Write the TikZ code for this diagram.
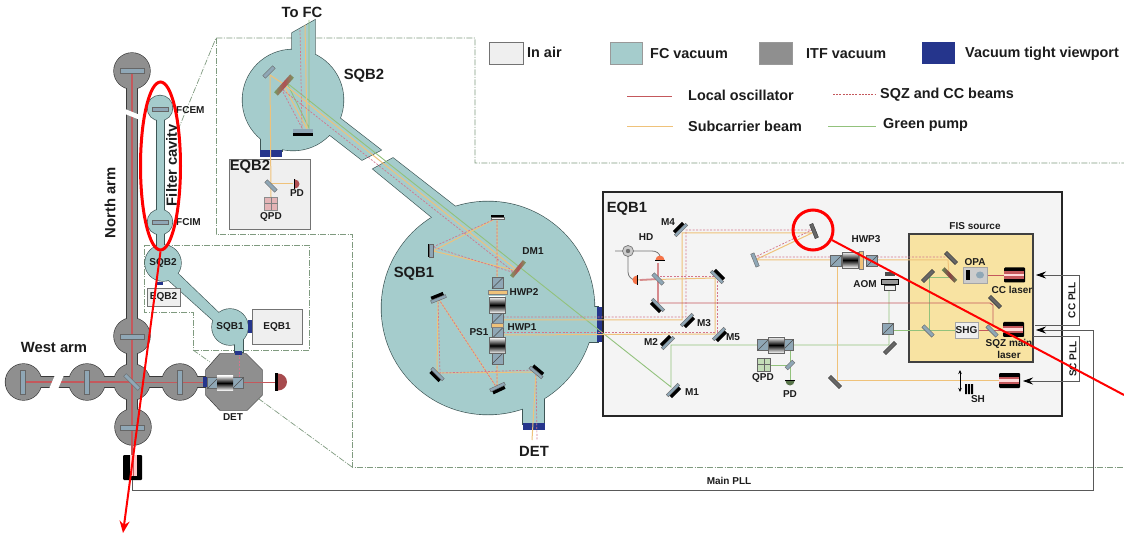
\documentclass[tikz,border=0pt]{standalone}
\usepackage{fontspec}
\setmainfont{Liberation Sans}
\usetikzlibrary{arrows.meta,shapes.geometric}
\definecolor{fcblue}{HTML}{A5CCCC}
\definecolor{fcedge}{HTML}{3E5656}
\definecolor{itfgray}{HTML}{8F8F8F}
\definecolor{itfedge}{HTML}{3A3A3A}
\definecolor{portblue}{HTML}{25358C}
\definecolor{airgray}{HTML}{EFEFEF}
\definecolor{fisyellow}{HTML}{F8E3A2}
\definecolor{zonegreen}{HTML}{7F9A7F}
\definecolor{loRed}{HTML}{C4585C}
\definecolor{subOrange}{HTML}{EFC27A}
\definecolor{pumpGreen}{HTML}{92C27C}
\definecolor{sqzRed}{HTML}{D3758C}
\definecolor{plateGray}{HTML}{8FA7B6}
\definecolor{txtBlack}{HTML}{1C1C1C}
\tikzset{
  fcline/.style={draw=fcedge, line width=1.3pt},
  fcbody/.style={fill=fcblue},
  itfline/.style={draw=itfedge, line width=1.3pt},
  itfbody/.style={fill=itfgray},
  port/.style={fill=portblue},
  airbox/.style={fill=airgray, draw=black!55, line width=0.8pt},
  zone/.style={draw=zonegreen, line width=0.7pt, dash pattern=on 6pt off 1.5pt on 1pt off 1.5pt},
  lobeam/.style={draw=loRed, line width=0.9pt},
  subbeam/.style={draw=subOrange, line width=1pt},
  pumpbeam/.style={draw=pumpGreen, line width=0.9pt},
  sqzbeam/.style={draw=sqzRed, line width=0.7pt, dash pattern=on 2pt off 1.5pt},
  plate/.style={fill=plateGray, draw=black!60, line width=0.4pt},
  platedark/.style={fill=black!60, draw=black!80, line width=0.4pt},
  pll/.style={draw=black!65, line width=0.8pt},
  plltip/.style={-{Stealth[length=10pt,width=7pt,black]}},
  callout/.style={draw=red, line width=3pt},
  biglbl/.style={font=\bfseries\fontsize{14.8}{15}\selectfont, text=txtBlack, inner sep=0pt},
  leglbl/.style={font=\bfseries\fontsize{14.4}{15}\selectfont, text=txtBlack, inner sep=0pt},
  midlbl/.style={font=\bfseries\fontsize{10}{11}\selectfont, text=txtBlack, inner sep=0pt},
  smalllbl/.style={font=\bfseries\fontsize{10}{12}\selectfont, text=txtBlack, inner sep=0pt, align=center},
}
% mirror with black backing, plain mirrors, cube, isolator, laser, diode
\newcommand{\mirblack}[3]{\begin{scope}[shift={(#1,#2)},rotate=#3]
  \fill[black] (-6.5,-5) rectangle (6.5,-1);
  \filldraw[plate] (-8,-1.5) rectangle (8,1.5);
\end{scope}}
\newcommand{\mirplain}[4]{\begin{scope}[shift={(#1,#2)},rotate=#3]
  \filldraw[plate] (-#4,-1.8) rectangle (#4,1.8);
\end{scope}}
\newcommand{\mirdark}[3]{\begin{scope}[shift={(#1,#2)},rotate=#3]
  \filldraw[platedark] (-7.5,-1.8) rectangle (7.5,1.8);
\end{scope}}
\newcommand{\cubebs}[2]{\begin{scope}[shift={(#1,#2)}]
  \filldraw[plate] (-5.5,-5.5) rectangle (5.5,5.5);
  \draw[black!70, line width=0.4pt] (-5.5,5.5) -- (5.5,-5.5);
\end{scope}}
\newcommand{\faradbox}[3]{\begin{scope}[shift={(#1,#2)},rotate=#3]
  \shade[top color=white, bottom color=white, middle color=black] (-8,-8) rectangle (8,8);
  \draw[black!60, line width=0.4pt] (-8,-8) rectangle (8,8);
\end{scope}}
\newcommand{\laserbox}[2]{\begin{scope}[shift={(#1,#2)}]
  \fill[black, rounded corners=1pt] (-10.5,-7.5) rectangle (10.5,7.5);
  \fill[loRed] (-10.5,-3.6) rectangle (9.5,3.6);
  \fill[white!85!red] (-10.5,-1.2) rectangle (9.5,1.2);
\end{scope}}
\newcommand{\domepd}[4]{\begin{scope}[shift={(#1,#2)},rotate=#3]
  \fill[#4] (-4.5,0) arc (180:0:4.5 and -4.5) -- cycle;
  \fill[black] (-5,-0.2) rectangle (5,1);
\end{scope}}
\begin{document}
\begin{tikzpicture}[x=1pt,y=-1pt]
  \useasboundingbox (0,0) rectangle (1124,534);
  \fill[white] (0,0) rectangle (1124,534);
  % Zone outlines
  \draw[zone] (178,130) -- (216,38) -- (475,38) -- (475,163) -- (1124,163);
  \draw[zone] (216,38) -- (216,234) -- (352,234) -- (352,467) -- (1124,467);
  \draw[zone] (352,467) -- (259,399);
  \draw[zone] (144,245) -- (309,245) -- (309,350) -- (193,350) -- (193,312) -- (144,312) -- cycle;
  \draw[zone] (193,350) -- (210,362);
  % Arms and main chambers
  \foreach \lay in {itfline,itfbody}{
    \path[\lay] (127,71) rectangle (137,430);
    \path[\lay] (23,377) rectangle (205,387);
    \foreach \cx/\cy in {132/71,132/336,132/382,133/427,87/382,23.5/382,180/382}{
      \path[\lay] (\cx,\cy) circle (18);
    }
    \path[\lay] (220,354) -- (246,354) -- (262,370) -- (262,395) -- (247,410) -- (220,410) -- (206,395) -- (206,370) -- cycle;
  }
  \draw[loRed, line width=2pt] (132,71) -- (132,455);
  \draw[loRed, line width=1.6pt] (23,382) -- (132,382);
  \draw[lobeam] (132,382) -- (285,382);
  \draw[sqzbeam] (239,354) -- (239,382);
  % Arm breaks
  \fill[white] (125,109) -- (140,115) -- (140,120) -- (125,114) -- cycle;
  \fill[white] (55,375) -- (64,375) -- (58,389) -- (49,389) -- cycle;
  % Arm mirrors
  \foreach \cx/\cy in {132/71,132/337,132/428}{
    \filldraw[plate] (\cx-12,\cy-2.5) rectangle (\cx+12,\cy+2.5);
  }
  \foreach \cx in {23,87,180}{
    \filldraw[plate] (\cx-2.5,370) rectangle (\cx+2.5,394);
  }
  \mirplain{132}{382}{-45}{10}
  \fill[port] (203,377) rectangle (207,387);
  % Detection bench parts
  \cubebs{213}{383}
  \cubebs{238}{383}
  \begin{scope}[shift={(225,383)}]
    \shade[top color=white, bottom color=white, middle color=black] (-8,-7.5) rectangle (8,7.5);
  \end{scope}
  \fill[black] (275,373) rectangle (278,391);
  \fill[loRed!85!black] (278,373.5) arc (-90:90:9 and 8.5) -- cycle;
  % Squeezing injection stub
  \fill[black, rounded corners=1pt] (123,455) rectangle (142,480);
  \fill[white!80!red] (130,455) rectangle (136.5,476);
  \draw[loRed, line width=0.9pt] (133,455) -- (133,476);
  % Filter cavity and small benches
  \foreach \lay in {fcline,fcbody}{
    \path[\lay] (156.5,108) rectangle (164,248);
    \path[\lay] (160,108) circle (12.5);
    \path[\lay] (160,222) circle (12.5);
    \path[\lay] (163,263) circle (18);
    \path[\lay] (230,327) circle (18);
    \path[\lay] (172,268) -- (222,316) -- (215,322) -- (165,277) -- cycle;
    \path[\lay] (235,335) rectangle (243,352);
  }
  \foreach \cy in {109,222}{
    \filldraw[plate] (152.5,\cy-2.2) rectangle (168,\cy+2.2);
  }
  \fill[port] (157,282) rectangle (163,285);
  \fill[port] (248,320) rectangle (252,333);
  \fill[port] (235,351) rectangle (242,355);
  \draw[airbox] (147,288) rectangle (180,306);
  \draw[airbox] (252,309) rectangle (302,344);
  % Upper suspended bench and long pipe
  \foreach \lay in {fcline,fcbody}{
    \path[\lay] (293,100) circle (50.5);
    \path[\lay] (292,33) -- (315,20) -- (315,70) -- (292,70) -- cycle;
    \path[\lay] (261,130) rectangle (282,151);
    \path[\lay] (332,112) -- (381,150) -- (362,160) -- (322,129) -- cycle;
    \path[\lay] (393,158) -- (470,218) -- (445,228) -- (373,169) -- cycle;
    \path[\lay] (488,308) circle (106.5);
    \path[\lay] (523,390) rectangle (544,424);
    \path[\lay] (588,307) rectangle (598,342);
  }
  \fill[port] (260,150) rectangle (282,157);
  \fill[port] (523,423) rectangle (545,430);
  \fill[port] (597,307) rectangle (603,342);
  \draw[airbox] (229,159) rectangle (310,229);
  % EQB1 bench
  \draw[black!85, fill=airgray!70!white, line width=2.2pt] (603,192) rectangle (1062,416);
  \draw[fill=fisyellow, draw=black!75, line width=1.5pt] (909,234) rectangle (1033,362);
  % Green pump
  \draw[pumpbeam] (309,20) -- (309,128) -- (287,83) -- (671,387) -- (671,345) -- (889,345) -- (889,290);
  \draw[pumpbeam] (888,330) -- (955,330);
  \draw[pumpbeam] (929,330) -- (929,277) -- (950,277);
  \draw[pumpbeam] (790,345) -- (790,380);
  \draw[pumpbeam] (790,365) -- (764,365);
  % Subcarrier beam
  \draw[subbeam] (305,25) -- (307,129) -- (285,88);
  \draw[subbeam] (285,85) -- (518,271) -- (433,251) -- (497,218) -- (497,278);
  \draw[subbeam] (270,75) -- (285,85);
  \draw[subbeam] (270,75) -- (271,197);
  \draw[subbeam] (271,184) -- (293,184);
  \draw[subbeam] (497,363) -- (497,388) -- (438,298) -- (437,373) -- (536,372) -- (532,440);
  \draw[subbeam] (503,320) -- (682,320) -- (682,233) -- (812,233) -- (755,260) -- (948,260) -- (949,275);
  \draw[subbeam] (503,335) -- (715,334) -- (715,278) -- (637,280);
  \draw[subbeam] (837,267) -- (837,380) -- (1000,380);
  % Squeezed and control beams
  \draw[sqzbeam] (300,30) -- (302,128) -- (283,92);
  \draw[sqzbeam] (283,90) -- (515,273) -- (433,247) -- (497,218) -- (497,278);
  \draw[sqzbeam] (497,363) -- (497,388) -- (438,298) -- (440,373) -- (536,370) -- (537,440);
  \draw[sqzbeam] (503,317) -- (686,317) -- (686,230) -- (812,230) -- (755,257) -- (948,257);
  \draw[sqzbeam] (503,332) -- (717,332) -- (717,276) -- (660,276);
  % Local oscillator
  \draw[lobeam] (658,303) -- (990,303) -- (993,305) -- (993,327);
  \draw[lobeam] (987,275) -- (1004,275);
  \draw[lobeam] (978,330) -- (1003,330);
  \draw[loRed!70, line width=1.8pt] (658,303) -- (658,263);
  \draw[loRed!70, line width=1.8pt] (658,279) -- (640,280);
  % Upper bench optics
  \mirplain{269}{72}{45}{7}
  \begin{scope}[shift={(284,85)},rotate=48]
    \shade[left color=pumpGreen!80!black, right color=pumpGreen!80!black, middle color=loRed!90!black] (-12,-2.5) rectangle (12,2.5);
  \end{scope}
  \fill[plateGray] (293,129) rectangle (313,133);
  \fill[black] (293,133) rectangle (313,136);
  \mirplain{271}{186}{-45}{7}
  \filldraw[fill=loRed!45!white, draw=black!45, line width=0.4pt] (264.5,197) rectangle (277.5,210);
  \draw[black!50, line width=0.6pt] (271,197) -- (271,210) (264.5,203.5) -- (277.5,203.5);
  \domepd{295}{184}{-90}{loRed!90!black}
  % Lower bench optics
  \begin{scope}[shift={(518,269)},rotate=50]
    \shade[left color=pumpGreen!80!black, right color=pumpGreen!80!black, middle color=loRed!90!black] (-10,-2) rectangle (10,2);
  \end{scope}
  \fill[black] (491,215) rectangle (504,217);
  \filldraw[plate, fill=airgray] (491,217) rectangle (504,219.5);
  \mirplain{431}{251}{90}{6.5}
  \fill[black] (427.5,244.5) rectangle (429,257.5);
  \mirblack{438.5}{299}{22}
  \mirblack{437.5}{374}{135}
  \mirblack{497.5}{387}{205}
  \mirblack{536}{372.5}{-40}
  \cubebs{497.5}{283}
  \cubebs{497.5}{318}
  \cubebs{497.5}{333}
  \cubebs{497.5}{358.5}
  \faradbox{497}{305}{90}
  \faradbox{497}{345.5}{90}
  \filldraw[fill=subOrange, draw=black!50, line width=0.4pt] (488,290) rectangle (507,294);
  \filldraw[fill=subOrange, draw=black!50, line width=0.4pt] (491,323) rectangle (503,327);
  % EQB1 optics
  \foreach \mx/\my/\ma in {681/230/45,687/320/225,719/334/225,668/343/45,673/390/225,658/305/135,717/277/-45}{
    \mirblack{\mx}{\my}{\ma}
  }
  \mirdark{814}{231}{-68}
  \mirplain{755}{260}{-68}{7}
  \mirplain{658}{279}{-45}{7}
  \mirdark{835}{382}{-45}
  \mirdark{951}{258}{-45}
  \mirdark{928}{276}{45}
  \mirplain{928}{331}{-45}{7}
  \mirplain{992}{331}{-45}{7}
  \mirdark{995}{302}{-45}
  \mirdark{890}{348}{45}
  \begin{scope}[shift={(949.5,275)},rotate=-45]
    \shade[left color=pumpGreen!70!black, right color=pumpGreen!70!black, middle color=loRed!70!black] (-9,-2) rectangle (9,2);
  \end{scope}
  \mirplain{790}{365}{45}{5}
  \cubebs{763}{345}
  \cubebs{788}{345}
  \faradbox{776}{345}{0}
  \cubebs{836}{261}
  \cubebs{872}{261}
  \faradbox{850}{260}{0}
  \filldraw[fill=subOrange, draw=black!50, line width=0.4pt] (859,251) rectangle (863,269);
  \cubebs{888}{329}
  % Acousto-optic block
  \fill[black!70] (885,272) rectangle (895,276);
  \filldraw[fill=black!40, draw=black, line width=1pt] (881,280) rectangle (898,285);
  \filldraw[fill=airgray, draw=black!70, line width=0.5pt] (884,285) rectangle (895,290);
  % Small quadrant diode on the bench
  \filldraw[fill=pumpGreen!55!white, draw=black!60, line width=0.4pt] (757.5,358) rectangle (770.5,371);
  \draw[black!60, line width=0.5pt] (764,358) -- (764,371) (757.5,364.5) -- (770.5,364.5);
  \domepd{790}{381}{180}{pumpGreen!60!black}
  % Homodyne
  \draw[black!55, line width=0.8pt] (615,251) -- (652,251) to[out=0, in=90] (660,257);
  \draw[black!55, line width=0.8pt] (628,251) -- (628,272) to[out=-90, in=180] (636,280);
  \filldraw[fill=white!80!black, draw=black!55, line width=0.7pt] (628,251) circle (5.5);
  \fill[black!55] (628,251) circle (2.2);
  \domepd{660}{260}{0}{subOrange!60!red}
  \domepd{637}{280}{90}{subOrange!60!red}
  % Source boxes
  \filldraw[fill=black!20, draw=black!35, line width=0.6pt] (963,267) rectangle (987,283);
  \fill[black] (966,270) rectangle (970,280);
  \fill[plateGray] (980,275) ellipse (4 and 3.5);
  \laserbox{1014.5}{275}
  \laserbox{1013.5}{329.5}
  \laserbox{1009.5}{380.5}
  \filldraw[fill=airgray, draw=black!35, line width=0.6pt] (955,322) rectangle (978,338);
  % Translation stage
  \draw[black, line width=0.7pt, {Stealth[length=4pt,width=3.5pt]}-{Stealth[length=4pt,width=3.5pt]}] (960,370) -- (960,392);
  \fill[black] (965,384) rectangle (967,394) (968,384) rectangle (970,394) (971,384) rectangle (973,394);
  % Phase lock loops
  \coordinate (ccend) at (1036,275);
  \coordinate (ccout) at (1035,325);
  \coordinate (scend) at (1023,381);
  \coordinate (scout) at (1033,336);
  \coordinate (mainend) at (1036,330);
  \coordinate (mainout) at (132,480);
  \draw[pll, plltip] (ccout) -- (1079,325) -- (1079,275) -- (ccend);
  \draw[pll, plltip] (scout) -- (1079,336) -- (1079,381) -- (scend);
  \draw[pll, plltip] (mainout) -- (132,490) -- (1093,490) -- (1093,330) -- (mainend);
  % Legend
  \draw[airbox] (489,42) rectangle (523,64);
  \draw[fill=fcblue, draw=black!40, line width=0.6pt] (610,42) rectangle (642,64);
  \draw[fill=itfgray, draw=black!40, line width=0.6pt] (759,42) rectangle (792,64);
  \fill[port] (922,42) rectangle (955,64);
  \draw[lobeam] (627,96) -- (672,96);
  \draw[loRed, line width=1pt, dash pattern=on 2pt off 1.2pt] (833,95) -- (876,95);
  \draw[subbeam] (627,127) -- (673,127);
  \draw[pumpbeam] (828,126) -- (876,126);
  \node[leglbl, anchor=west] (legair) at (527,52) {In air};
  \node[leglbl, anchor=west] (legfc) at (650,54) {FC vacuum};
  \node[leglbl, anchor=west] (legitf) at (806,54) {ITF vacuum};
  \node[leglbl, anchor=west] (legport) at (965,54) {Vacuum tight viewport};
  \node[leglbl, anchor=west] (leglo) at (688,95) {Local oscillator};
  \node[leglbl, anchor=west] (legsqz) at (880,95) {SQZ and CC beams};
  \node[leglbl, anchor=west] (legsub) at (688,126) {Subcarrier beam};
  \node[leglbl, anchor=west] (leggreen) at (883,125) {Green pump};
  % Labels
  \node[biglbl] (lbltofc) at (302,12) {To FC};
  \node[biglbl] (lblsqbtwo) at (364,76) {SQB2};
  \node[biglbl] (lbleqbtwo) at (250,167) {EQB2};
  \node[biglbl] (lblsqbone) at (414,274) {SQB1};
  \node[biglbl] (lbleqbone) at (627,209) {EQB1};
  \node[biglbl] (lbldet) at (534,451) {DET};
  \node[biglbl] (lblwest) at (54,347) {West arm};
  \node[biglbl, rotate=90] (lblnorth) at (110,203) {North arm};
  \node[biglbl, rotate=90] (lblfilter) at (173,165) {Filter cavity};
  \node[smalllbl, anchor=west] (lblfcem) at (176,110) {FCEM};
  \node[smalllbl, anchor=west] (lblfcim) at (176,222) {FCIM};
  \node[midlbl] (lblsqbtwosm) at (163,263) {SQB2};
  \node[midlbl] (lbleqbtwosm) at (163.5,297) {EQB2};
  \node[midlbl] (lblsqbonesm) at (230,327) {SQB1};
  \node[midlbl] (lbleqbonesm) at (277,327) {EQB1};
  \node[smalllbl] (lbldetsm) at (233,417) {DET};
  \node[smalllbl] (lblpdtop) at (297,193) {PD};
  \node[smalllbl] (lblqpdtop) at (271,217) {QPD};
  \node[smalllbl] (lbldmone) at (533,251) {DM1};
  \node[smalllbl] (lblhwptwo) at (524,292) {HWP2};
  \node[smalllbl] (lblhwpone) at (522,327) {HWP1};
  \node[smalllbl] (lblpsone) at (479,332) {PS1};
  \node[smalllbl] (lblmfour) at (668,222) {M4};
  \node[smalllbl] (lblmthree) at (704,323) {M3};
  \node[smalllbl] (lblmfive) at (733,337) {M5};
  \node[smalllbl] (lblmtwo) at (651,342) {M2};
  \node[smalllbl] (lblmone) at (692,392) {M1};
  \node[smalllbl] (lblhd) at (646,237) {HD};
  \node[smalllbl] (lblqpdeq) at (763,378) {QPD};
  \node[smalllbl] (lblpdeq) at (790,394) {PD};
  \node[smalllbl] (lblhwpthree) at (866,239) {HWP3};
  \node[smalllbl] (lblaom) at (865,284) {AOM};
  \node[smalllbl] (lblfis) at (975,226) {FIS source};
  \node[smalllbl] (lblopa) at (975,262) {OPA};
  \node[smalllbl] (lblcc) at (1012,290) {CC laser};
  \node[smalllbl] (lblshg) at (966.5,330) {SHG};
  \node[smalllbl] (lblsqzm) at (1009,349) {SQZ main\\laser};
  \node[smalllbl] (lblsh) at (978,399) {SH};
  \node[smalllbl] (lblmain) at (729,481) {Main PLL};
  \node[smalllbl, rotate=90] (lblccpll) at (1072,300) {CC PLL};
  \node[smalllbl, rotate=90] (lblscpll) at (1073,359) {SC PLL};
  % Red callouts
  \node[callout, circle, minimum size=40pt, inner sep=0pt] (ringmir) at (813,230) {};
  \node[callout, ellipse, minimum width=40pt, minimum height=168pt, inner sep=0pt] (ringfc) at (160.5,166) {};
  \coordinate (farend) at (1124,395);
  \coordinate (arrowend) at (123,533);
  \draw[red, line width=2pt] (ringmir) -- (farend);
  \draw[red, line width=2pt, -{Stealth[length=12pt,width=10pt]}] (ringfc.south) -- (arrowend);
\end{tikzpicture}
\end{document}
